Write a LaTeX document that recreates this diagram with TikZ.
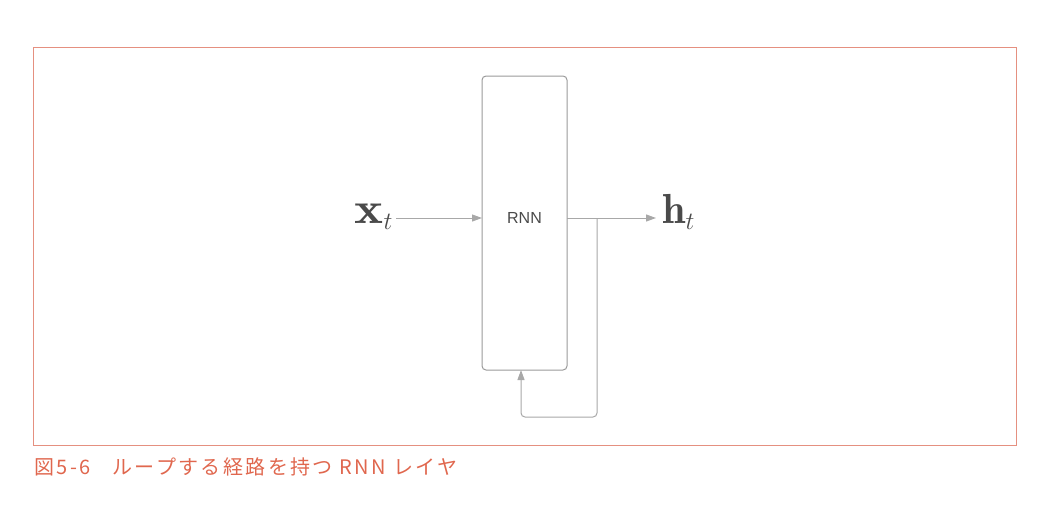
\documentclass[tikz,border=0pt]{standalone}
\usepackage{graphicx}
\usepackage{fontspec}
\setsansfont{Liberation Sans}
\newfontfamily\jpfont[LetterSpace=12]{Noto Sans CJK JP}
\usetikzlibrary{arrows.meta}
\definecolor{framecol}{HTML}{E59080}
\definecolor{capcol}{HTML}{E0674E}
\definecolor{boxcol}{HTML}{9A9A9A}
\definecolor{arrcol}{HTML}{A8A8A8}
\definecolor{txtcol}{HTML}{4A4A4A}
\tikzset{
  layerbox/.style={draw=boxcol, line width=1pt, rounded corners=4pt, minimum width=85pt, minimum height=294pt, inner sep=0pt},
  flow/.style={draw=arrcol, line width=1pt, -{Triangle[length=10pt,width=7pt]}},
  vec/.style={inner sep=0pt, text=txtcol}
}
\begin{document}
\begin{tikzpicture}[x=1pt,y=-1pt]
\useasboundingbox (0,0) rectangle (1064,506);
\draw[framecol, line width=1pt] (33,47) rectangle (1016,445);
\node[layerbox] (rnn) at (524.5,223) {};
\node[font=\sffamily\fontsize{16}{18}\selectfont, text=txtcol] (lbl) at (524.5,218) {RNN};
\node[vec, anchor=base east, font=\fontsize{44}{50}\selectfont] (x) at (393,223) {\scalebox{1.25}[1]{$\mathbf{x}$}$_t$};
\node[vec, anchor=base west, font=\fontsize{42}{46}\selectfont] (h) at (662,223) {$\mathbf{h}_t$};
\coordinate (instart) at (396,218);
\coordinate (inend) at (482,218);
\coordinate (outstart) at (567,218);
\coordinate (outend) at (656,218);
\draw[flow] (instart) -- (inend);
\draw[flow] (outstart) -- (outend);
\coordinate (l1) at (597,218);
\coordinate (l2) at (597,417);
\coordinate (l3) at (521,417);
\coordinate (l4) at (521,370);
\draw[flow, rounded corners=4pt] (l1) -- (l2) -- (l3) -- (l4);
\node[anchor=west, text=capcol, font=\jpfont\fontsize{20}{22}\selectfont, inner sep=0pt] (cap) at (34,467) {図5-6\hspace{1.1em}ループする経路を持つ RNN レイヤ};
\end{tikzpicture}
\end{document}
